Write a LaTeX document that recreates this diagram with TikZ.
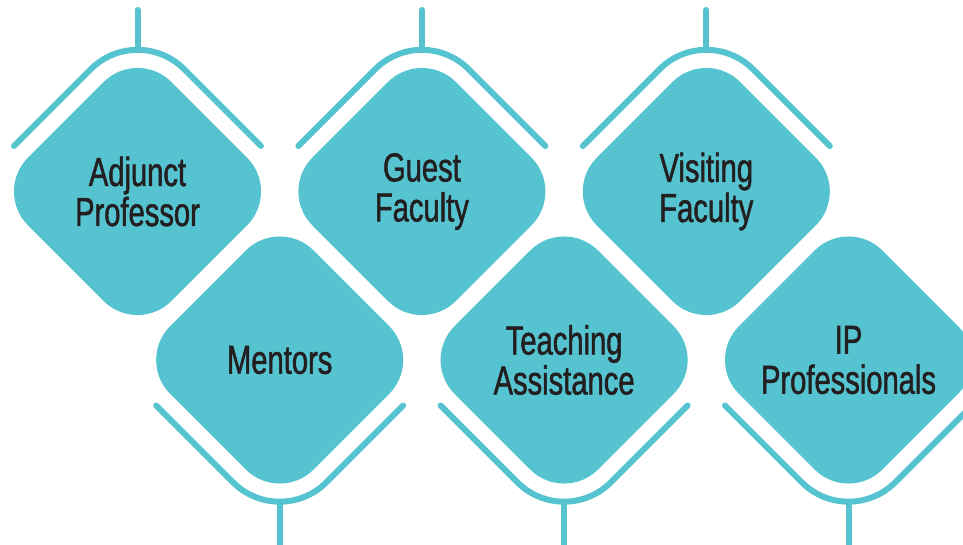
\documentclass[tikz,border=0pt]{standalone}
\usepackage{fontspec}
\usetikzlibrary{shapes.geometric,calc}
\newfontfamily\lblfont[FakeStretch=0.72,FakeBold=1.2]{Liberation Sans}
\definecolor{teal1}{RGB}{86,196,208}
\definecolor{ink}{RGB}{35,31,32}
\tikzset{
  dmd/.style={diamond, aspect=1, minimum width=287pt, minimum height=287pt,
    inner sep=0pt, fill=teal1, rounded corners=48pt, align=center,
    text=ink, font=\lblfont\fontsize{40.5}{40}\selectfont},
  chev/.style={draw=teal1, line width=6pt, line cap=round, rounded corners=66pt},
  stem/.style={draw=teal1, line width=6pt, line cap=round}
}
\begin{document}
\begin{tikzpicture}[x=1pt,y=-1pt]
\useasboundingbox (0,0) rectangle (963,544);
% top row
\node[dmd] (d1) at (137.5,191.5) {Adjunct\\Professor};
\node[dmd] (d3) at (421.9,191.5) {Guest\\Faculty};
\node[dmd] (d5) at (706.3,191.5) {Visiting\\Faculty};
% bottom row
\node[dmd] (d2) at (279.7,360) {Mentors};
\node[dmd] (d4) at (564.1,360) {Teaching\\Assistance};
\node[dmd] (d6) at (848.5,360) {IP\\Professionals};
% top chevrons
\foreach \n in {d1,d3,d5}{
  \draw[chev] ($(\n.center)+(-123.5,-45.5)$) -- ($(\n.center)+(0,-169)$) -- ($(\n.center)+(123.5,-45.5)$);
  \draw[stem] ($(\n.center)+(0,-181.5)$) -- ($(\n.center)+(0,-141.5)$);
}
% bottom chevrons
\foreach \n in {d2,d4,d6}{
  \draw[chev] ($(\n.center)+(-123.5,45.5)$) -- ($(\n.center)+(0,169)$) -- ($(\n.center)+(123.5,45.5)$);
  \draw[stem] ($(\n.center)+(0,141.5)$) -- ($(\n.center)+(0,195)$);
}
\end{tikzpicture}
\end{document}
